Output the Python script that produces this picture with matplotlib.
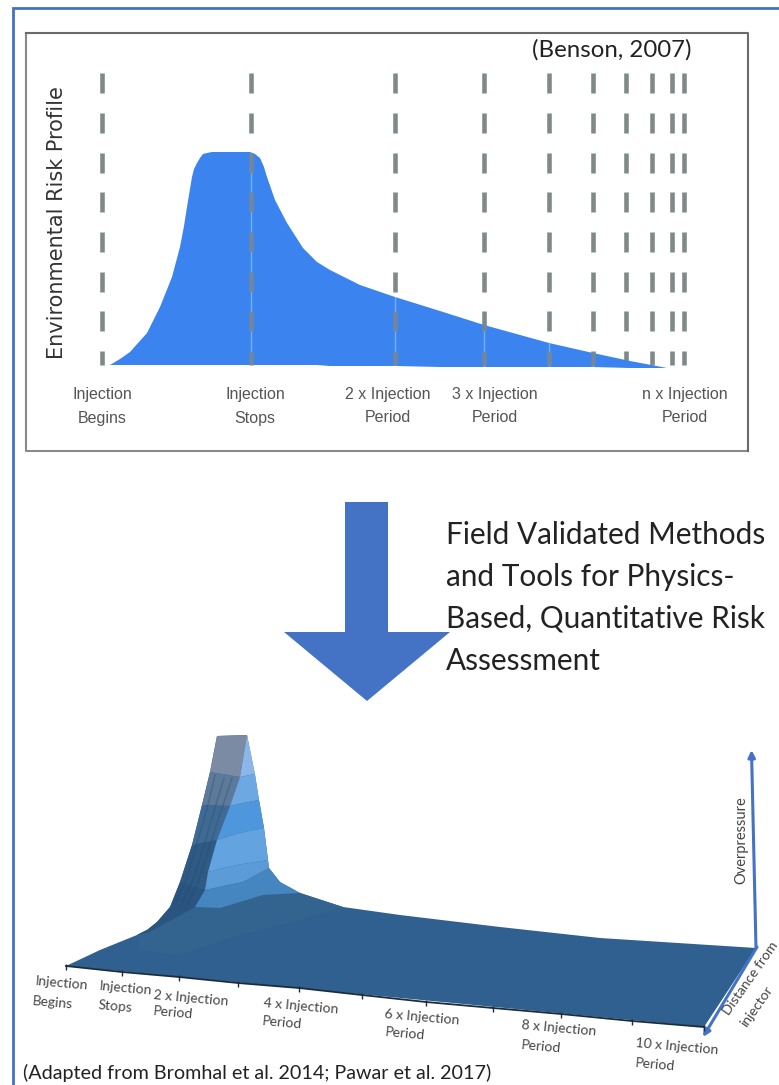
import matplotlib
matplotlib.use('Agg')
import matplotlib.pyplot as plt
from matplotlib.patches import Polygon

# top panel
dash_x = [102, 251, 395, 484, 549, 593, 626, 652, 672, 684]
dash_top = [73, 113, 153, 192, 232, 272, 311, 351]
dash_bottom = [93, 133, 173, 212, 252, 292, 331, 365]

risk_x = [110, 120, 130, 147, 160, 172, 180, 184, 187, 190, 192, 194, 197, 200, 203, 207, 212, 250, 255, 260, 264, 267, 275, 287, 303, 317, 330, 360, 395, 440, 484, 549, 593, 630, 667]
risk_top = [365, 359, 352, 333, 307, 277, 247, 226, 207, 189, 177, 169, 163, 158, 154, 153, 152, 152, 154, 158, 167, 177, 200, 223, 248, 262, 270, 285, 297, 311, 325, 343, 353, 361, 368]
risk_base = [365, 365, 365, 365, 365, 365, 365, 365, 365, 365, 365, 365, 365, 365, 365, 365, 365, 365, 365, 365, 365, 365, 365, 365, 365, 365, 366, 366, 366, 367, 367, 367, 367, 368, 368]

top_labels = [('Injection', 'Begins', 102), ('Injection', 'Stops', 255), ('2 x Injection', 'Period', 388),
              ('3 x Injection', 'Period', 495), ('n x Injection', 'Period', 685)]

# bottom panel outline
surf_x = [66, 100, 137, 147, 157, 170, 180, 192, 202, 210, 217, 247, 255, 259, 264, 269, 280, 300, 343, 400, 500, 600, 756, 704]
surf_y = [966, 950, 935, 930, 922, 907, 882, 845, 805, 772, 736, 735, 775, 800, 828, 868, 882, 893, 907, 915, 927, 938, 948, 1027]

# light face of the peak, one band per contour step
band_colors = ['#8cb6ea', '#6da8e2', '#4f97dd', '#62a3e0', '#5a9bd8', '#4586c0']
band_x = [[247, 240, 255], [240, 230, 243, 259, 255], [230, 217, 240, 264, 259, 243], [217, 208, 237, 268, 264, 240],
          [208, 205, 243, 269, 268, 237], [205, 195, 220, 263, 300, 280, 269, 243]]
band_y = [[735, 777, 774], [777, 806, 803, 800, 774], [806, 840, 833, 828, 800, 803], [840, 872, 865, 860, 828, 833],
          [872, 890, 882, 868, 860, 865], [890, 907, 908, 895, 893, 882, 868, 882]]

# shadowed side of the peak
ridge_colors = ['#7a8ba3', '#5d7a9a', '#3f6a94', '#2e5a84', '#2a5580']
ridge_x = [[217, 247, 240, 210], [210, 240, 230, 202], [202, 230, 217, 192], [192, 217, 208, 205, 180],
           [180, 205, 195, 175, 150, 137, 147, 157, 170]]
ridge_y = [[736, 735, 777, 772], [772, 777, 806, 805], [805, 806, 840, 845], [845, 840, 872, 890, 882],
           [882, 890, 907, 918, 932, 935, 930, 922, 907]]

streak_x = [[215, 208, 198, 186, 175], [224, 215, 205, 193, 180], [232, 222, 211, 198, 186]]
streak_y = [[775, 805, 840, 880, 905], [778, 808, 842, 880, 908], [778, 808, 842, 882, 908]]

# lighter patch of the floor below the peak
floor_x = [137, 195, 220, 263, 300, 343, 300, 240, 180, 140]
floor_y = [935, 907, 908, 895, 893, 907, 920, 935, 955, 950]

tick_x = [66, 122, 179, 238, 299, 362, 426, 493, 561, 632, 704]
tick_y = [966, 972, 977, 983, 988, 995, 1002, 1008, 1014, 1021, 1027]

axis_labels = [('Injection', 62, 983), ('Begins', 53, 1003), ('Injection', 126, 988), ('Stops', 115, 1007),
               ('2 x Injection', 191, 998), ('Period', 173, 1013), ('4 x Injection', 301, 1006), ('Period', 282, 1023),
               ('6 x Injection', 422, 1017), ('Period', 405, 1034), ('8 x Injection', 559, 1028), ('Period', 541, 1047),
               ('10 x Injection', 677, 1047), ('Period', 655, 1065)]

message = ['Field Validated Methods', 'and Tools for Physics-', 'Based, Quantitative Risk', 'Assessment']
message_y = [535, 577, 619, 661]

arrow_x = [345, 388, 388, 450, 367, 284, 345]
arrow_y = [502, 502, 632, 632, 701, 632, 632]

fig = plt.figure(figsize=(7.79, 10.85), dpi=100)
ax = fig.add_axes([0, 0, 1, 1])
ax.set_xlim(0, 779)
ax.set_ylim(1085, 0)
ax.axis('off')

# outer frame
ax.plot([13, 13, 779], [1085, 8, 8], color='#4472c4', lw=2, solid_joinstyle='miter')

# top panel box
ax.plot([26, 26, 748], [33, 451, 451], color='#8a8a8a', lw=1.5)
ax.plot([26, 748, 748], [33, 33, 451], color='#6a6a6a', lw=1.5)

for x in dash_x:
    ax.vlines([x] * len(dash_top), dash_top, dash_bottom, color='#7f8a88', lw=3.3, zorder=2)

risk_poly = Polygon(list(zip(risk_x, risk_top)) + list(zip(risk_x[::-1], risk_base[::-1])), closed=True,
                    color='#3b83ee', lw=0, zorder=3)
ax.add_patch(risk_poly)
for x in dash_x[1:6]:
    light = ax.vlines(x, 130, 368, color='#6fb3f2', lw=1, zorder=4)
    light.set_clip_path(risk_poly)
    inside = ax.vlines([x] * len(dash_top), dash_top, dash_bottom, color='#70879f', lw=3.3, zorder=5)
    inside.set_clip_path(risk_poly)

ax.text(612, 50, '(Benson, 2007)', family='Lato', fontsize=17.3, ha='center', va='center', color='#222222')
ax.text(57, 223, 'Environmental Risk Profile', family='DejaVu Sans', fontsize=15, rotation=90,
        ha='center', va='center', color='#333333')
for line1, line2, x in top_labels:
    ax.text(x, 394, line1, family='Liberation Sans', fontsize=11.5, ha='center', va='center', color='#555555')
    ax.text(x, 418, line2, family='Liberation Sans', fontsize=11.5, ha='center', va='center', color='#555555')

# big arrow and message
ax.add_patch(Polygon(list(zip(arrow_x, arrow_y)), closed=True, color='#4472c4', lw=0))
for line, y in zip(message, message_y):
    ax.text(446, y, line, family='Lato', fontsize=21.4, ha='left', va='center', color='#222222')

# surface
ax.add_patch(Polygon(list(zip(surf_x, surf_y)), closed=True, color='#30608f', lw=0, zorder=2))
ax.add_patch(Polygon(list(zip(floor_x, floor_y)), closed=True, color='#33648f', lw=0, zorder=3))
for xs, ys, c in zip(ridge_x, ridge_y, ridge_colors):
    ax.add_patch(Polygon(list(zip(xs, ys)), closed=True, color=c, lw=0, zorder=4))
for xs, ys, c in zip(band_x, band_y, band_colors):
    ax.add_patch(Polygon(list(zip(xs, ys)), closed=True, color=c, lw=0, zorder=5))
for xs, ys in zip(streak_x, streak_y):
    ax.plot(xs, ys, color='#26496e', lw=1.2, alpha=0.3, zorder=6)

ax.plot(tick_x, tick_y, color='#1d2c3a', lw=1.3, zorder=6)
ax.plot(tick_x, [y + 1 for y in tick_y], '|', color='#1d2c3a', ms=4, zorder=6)
for text, x, y in axis_labels:
    ax.text(x, y, text, family='Lato', fontsize=10, rotation=-5, ha='center', va='center', color='#444444')

# axis arrows
ax.annotate('', xy=(751.5, 750), xytext=(756, 948), arrowprops=dict(arrowstyle='-|>', color='#4472c4', lw=2.2, shrinkA=0, shrinkB=0))
ax.annotate('', xy=(703, 1037), xytext=(757, 947), arrowprops=dict(arrowstyle='-|>', color='#4472c4', lw=2.2, shrinkA=0, shrinkB=0))
ax.text(741, 840, 'Overpressure', family='Lato', fontsize=10.5, rotation=90, ha='center', va='center', color='#444444')
ax.text(750, 978, 'Distance from', family='Lato', fontsize=10, rotation=55, ha='center', va='center', color='#444444')
ax.text(757, 1006, 'injector', family='Lato', fontsize=10, rotation=55, ha='center', va='center', color='#444444')

ax.text(23, 1073, '(Adapted from Bromhal et al. 2014; Pawar et al. 2017)', family='Lato', fontsize=14.2,
        ha='left', va='center', color='#222222')

fig.savefig('out.png', dpi=100)
